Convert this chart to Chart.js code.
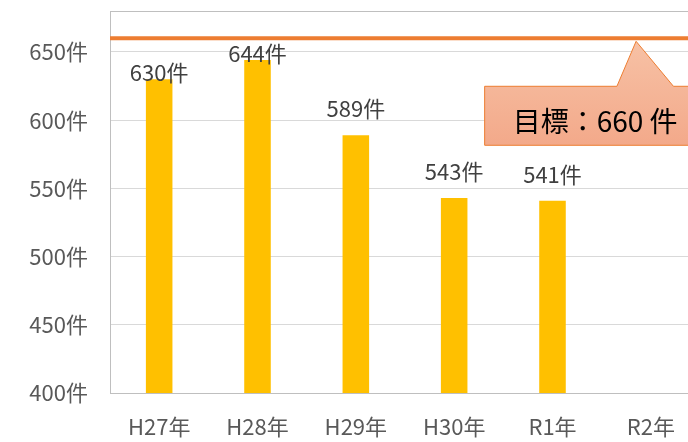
<!DOCTYPE html>
<html>
<head>
<meta charset="utf-8">
<script src="https://cdn.jsdelivr.net/npm/chart.js@4"></script>
<style>
  html, body { margin: 0; padding: 0; background: #fff; overflow: hidden; }
  #wrap { width: 700px; height: 442px; }
</style>
</head>
<body>
<div id="wrap"><canvas id="grafico"></canvas></div>
<script>
// dados do gráfico
const categorias = ['H27年', 'H28年', 'H29年', 'H30年', 'R1年', 'R2年'];
const valores = [630, 644, 589, 543, 541, null];
const meta = 660;
const textoMeta = '目標：660 件';
const ticksY = [400, 450, 500, 550, 600, 650];

// distância (px) entre rótulo e topo da barra
const afastamento = [0, 0, 20, 20, 20, 0];

const fonte = '"Noto Sans CJK JP", "Noto Sans", sans-serif';

// linha da meta, moldura e balão
const pluginMeta = {
  id: 'meta',
  afterDatasetsDraw(chart) {
    const ctx = chart.ctx;
    const area = chart.chartArea;
    const y = chart.scales.y.getPixelForValue(meta);
    const x = chart.scales.x;

    ctx.save();
    // moldura da área
    ctx.strokeStyle = '#BFBFBF';
    ctx.lineWidth = 1;
    ctx.strokeRect(area.left + 0.5, area.top + 0.5, area.right - area.left, area.bottom - area.top);

    // linha
    ctx.strokeStyle = '#ED7D31';
    ctx.lineWidth = 4;
    ctx.beginPath();
    ctx.moveTo(area.left, y);
    ctx.lineTo(area.right, y);
    ctx.stroke();

    // balão
    const passo = x.getPixelForValue(5) - x.getPixelForValue(4);
    const pontaX = x.getPixelForValue(4) + passo * 0.85;
    const esq = x.getPixelForValue(4) - passo * 0.69;
    const dir = area.right + 10;
    const topo = y + 48, base = y + 107;
    const b1 = x.getPixelForValue(4) + passo * 0.655;
    const b2 = x.getPixelForValue(4) + passo * 1.23;
    const grad = ctx.createLinearGradient(0, y, 0, base);
    grad.addColorStop(0, '#F7C2A6');
    grad.addColorStop(1, '#F3A98A');
    ctx.fillStyle = grad;
    ctx.strokeStyle = '#ED7D31';
    ctx.lineWidth = 1;
    ctx.beginPath();
    ctx.moveTo(esq, topo);
    ctx.lineTo(b1, topo);
    ctx.lineTo(pontaX, y + 3);
    ctx.lineTo(b2, topo);
    ctx.lineTo(dir, topo);
    ctx.lineTo(dir, base);
    ctx.lineTo(esq, base);
    ctx.closePath();
    ctx.fill();
    ctx.stroke();

    ctx.fillStyle = '#000';
    ctx.font = '28px ' + fonte;
    ctx.textAlign = 'left';
    ctx.textBaseline = 'middle';
    ctx.fillText(textoMeta, esq + 28, (topo + base) / 2 + 6);
    ctx.restore();
  }
};

// rótulos das barras
const pluginRotulos = {
  id: 'rotulos',
  afterDatasetsDraw(chart) {
    const ctx = chart.ctx;
    const meta0 = chart.getDatasetMeta(0);
    ctx.save();
    ctx.fillStyle = '#404040';
    ctx.font = '22px ' + fonte;
    ctx.textAlign = 'center';
    ctx.textBaseline = 'alphabetic';
    meta0.data.forEach(function(barra, i) {
      if (valores[i] == null) return;
      ctx.fillText(valores[i] + '件', barra.x, barra.y + 2 - afastamento[i]);
    });
    ctx.restore();
  }
};

const ctx = document.getElementById('grafico').getContext('2d');
const grafico = new Chart(ctx, {
  type: 'bar',
  data: {
    labels: categorias,
    datasets: [{
      data: valores,
      backgroundColor: '#FFC000',
      borderWidth: 0,
      barPercentage: 0.27,
      categoryPercentage: 1
    }]
  },
  options: {
    responsive: true,
    maintainAspectRatio: false,
    animation: false,
    events: [],
    layout: { padding: { top: 11, right: 0, bottom: 0, left: 0 } },
    plugins: { legend: { display: false }, tooltip: { enabled: false } },
    scales: {
      x: {
        grid: { display: false },
        border: { color: '#D0D0D0' },
        ticks: { color: '#595959', font: { family: fonte, size: 22 }, padding: 12 },
        afterFit(scale) { scale.height = 49; scale.paddingLeft = 0; scale.paddingRight = 0; }
      },
      y: {
        min: 400,
        max: 680,
        afterBuildTicks(scale) { scale.ticks = ticksY.map(v => ({ value: v })); },
        grid: { color: '#D9D9D9', drawTicks: false },
        border: { display: false },
        ticks: {
          color: '#595959',
          font: { family: fonte, size: 22 },
          padding: 22,
          callback: v => v + '件'
        },
        afterFit(scale) { scale.width = 110; scale.paddingTop = 0; scale.paddingBottom = 0; }
      }
    }
  },
  plugins: [pluginMeta, pluginRotulos]
});
</script>
</body>
</html>
